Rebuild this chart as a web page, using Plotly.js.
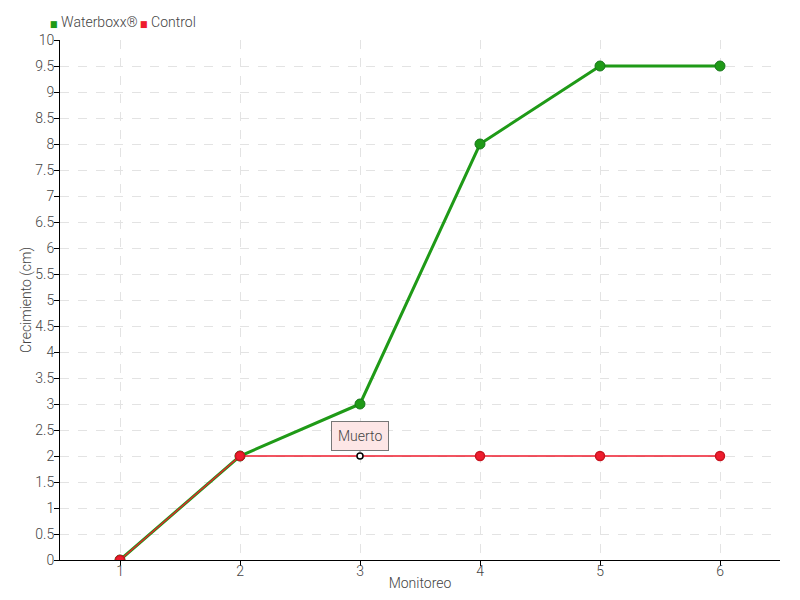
<!DOCTYPE html>
<html>
<head>
<meta charset="utf-8">
<script src="https://cdn.plot.ly/plotly-3.0.1.min.js"></script>
<style>html,body{margin:0;padding:0;background:#fff}#chart{width:800px;height:600px}</style>
</head>
<body>
<div id="chart"></div>
<script>
const monitoreo = [1, 2, 3, 4, 5, 6];
const waterboxx = [0, 2, 3, 8, 9.5, 9.5];
const control = [0, 2, 2, 2, 2, 2];
const controlNote = {x: 3, y: 2, text: "Muerto"};
const seriesNames = ["Waterboxx®", "Control"];

const FONT = "Roboto, 'DejaVu Sans Condensed', sans-serif";
const GREEN = "#1f9a17";
const RED = "#ee1c2e";

const ctrlColors = monitoreo.map(m => m === controlNote.x ? "#ffffff" : RED);
const ctrlLine = monitoreo.map(m => m === controlNote.x ? "#000000" : "#c8141f");
const ctrlSize = monitoreo.map(m => m === controlNote.x ? 6 : 9);

const traces = [
  {x: monitoreo, y: waterboxx, type: "scatter", mode: "lines+markers", name: seriesNames[0],
   line: {color: GREEN, width: 3}, opacity: 1,
   marker: {color: GREEN, size: 10, opacity: 1, line: {color: "#16761a", width: 1}},
   showlegend: false},
  {x: monitoreo, y: control, type: "scatter", mode: "lines+markers", name: seriesNames[1],
   line: {color: RED, width: 1.3}, opacity: 1,
   marker: {color: ctrlColors, size: ctrlSize, opacity: 1, line: {color: ctrlLine, width: 1.5}},
   showlegend: false}
];

const legendAnn = [
  {text: '<span style="color:' + GREEN + ';font-size:9px">■</span> ' + seriesNames[0], x: 48},
  {text: '<span style="color:' + RED + ';font-size:9px">■</span> ' + seriesNames[1], x: 138}
].map(o => ({
  xref: "paper", yref: "paper", x: (o.x - 60) / 720, y: 1 + (40 - 22) / 520,
  xanchor: "left", yanchor: "middle", showarrow: false, text: o.text,
  font: {family: FONT, size: 14, color: "#444", weight: 300}
}));

const layout = {
  width: 800, height: 600,
  margin: {l: 60, r: 20, t: 40, b: 40},
  paper_bgcolor: "#ffffff", plot_bgcolor: "#ffffff",
  font: {family: FONT, size: 14, color: "#444444", weight: 300},
  showlegend: false,
  xaxis: {
    range: [0.5, 6.5], tickmode: "array", tickvals: monitoreo, ticktext: monitoreo.map(String),
    showline: true, linecolor: "#000", linewidth: 1, ticks: "outside", ticklen: 5, tickcolor: "#000",
    ticklabelstandoff: -7,
    showgrid: true, gridcolor: "#e3e3e3", griddash: "dash", zeroline: false,
    tickfont: {size: 14, color: "#444", weight: 300},
    title: {text: "Monitoreo", font: {size: 14, color: "#444", weight: 300}, standoff: 0}
  },
  yaxis: {
    range: [0, 10], dtick: 0.5, tick0: 0,
    showline: true, linecolor: "#000", linewidth: 1, ticks: "outside", ticklen: 5, tickcolor: "#000",
    ticklabelstandoff: -3,
    showgrid: true, gridcolor: "#e3e3e3", griddash: "dash", zeroline: false,
    tickfont: {size: 14, color: "#444", weight: 300},
    title: {text: "Crecimiento (cm)", font: {size: 14, color: "#444", weight: 300}, standoff: 0}
  },
  annotations: legendAnn.concat([{
    x: controlNote.x, y: controlNote.y, xref: "x", yref: "y", text: controlNote.text,
    showarrow: true, arrowhead: 0, arrowwidth: 1, arrowcolor: "#777", ax: 0, ay: -20, standoff: 4,
    bgcolor: "#fde6e6", bordercolor: "#777", borderwidth: 1, borderpad: 6,
    font: {size: 14, color: "#444", family: FONT, weight: 300}
  }])
};

Plotly.newPlot("chart", traces, layout, {displayModeBar: false, staticPlot: true});
</script>
</body>
</html>
